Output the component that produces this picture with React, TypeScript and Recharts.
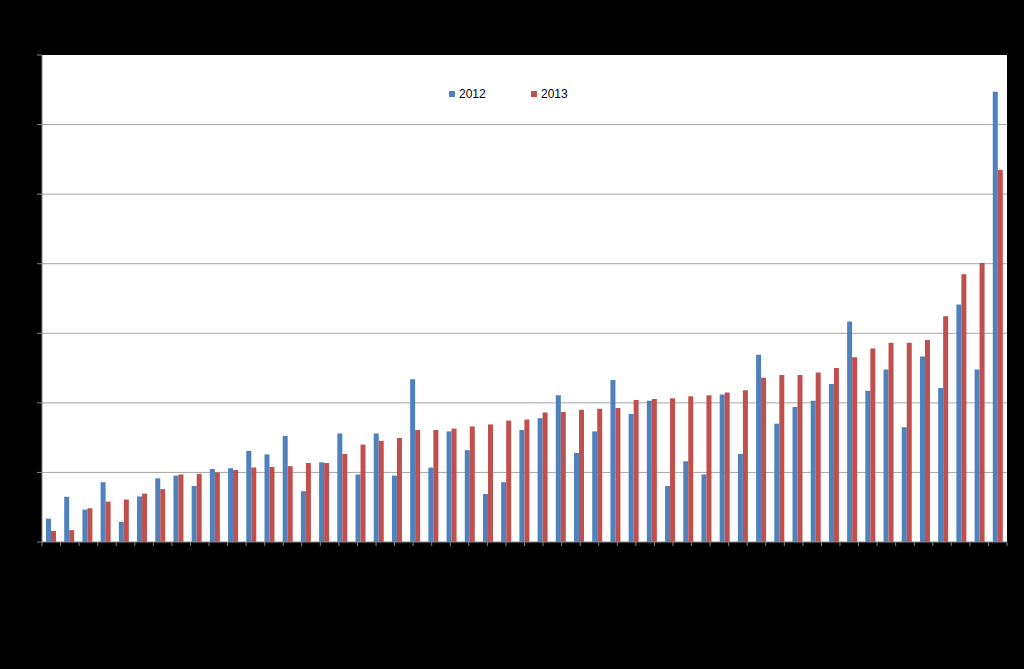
import React from 'react';
import { BarChart, Bar, XAxis, YAxis, CartesianGrid, Legend } from 'recharts';

const categories: string[] = Array.from({ length: 53 }, (_, i) => String(i + 1));

const values2012: number[] = [
  3.35, 6.5, 4.65, 8.6, 2.9, 6.55, 9.15, 9.55, 8.05, 10.5,
  10.6, 13.1, 12.6, 15.25, 7.3, 11.45, 15.6, 9.7, 15.6, 9.55,
  23.4, 10.7, 15.9, 13.2, 6.9, 8.6, 16.1, 17.8, 21.1, 12.8,
  15.9, 23.3, 18.4, 20.3, 8.05, 11.6, 9.7, 21.2, 12.65, 26.9,
  17.0, 19.4, 20.3, 22.7, 31.7, 21.75, 24.8, 16.5, 26.65, 22.15,
  34.15, 24.8, 64.7,
];

const values2013: number[] = [
  1.6, 1.7, 4.85, 5.8, 6.1, 6.95, 7.6, 9.7, 9.8, 10.0,
  10.35, 10.7, 10.8, 10.9, 11.35, 11.35, 12.65, 14.0, 14.55, 14.95,
  16.1, 16.1, 16.3, 16.6, 16.9, 17.45, 17.6, 18.6, 18.7, 19.0,
  19.15, 19.25, 20.4, 20.55, 20.65, 20.95, 21.1, 21.5, 21.8, 23.6,
  24.0, 24.0, 24.35, 25.0, 26.55, 27.8, 28.65, 28.65, 29.05, 32.45,
  38.5, 40.1, 53.5,
];

const seriesNames: string[] = ['2012', '2013'];
const Y_MAX = 70;
const yTicks: number[] = [0, 10, 20, 30, 40, 50, 60, 70];
const gridValues: number[] = [10, 20, 30, 40, 50, 60];
const boundaryTicks: number[] = Array.from({ length: categories.length + 1 }, (_, i) => i);

const data = categories.map((name, i) => ({
  name,
  v2012: values2012[i],
  v2013: values2013[i],
}));

const BLUE = '#4f81bd';
const RED = '#c0504d';

const EmptyTick = () => <g />;

const gridGenerator = (props: any) => {
  const off = props.offset || {};
  const top = off.top ?? 55;
  const h = off.height ?? 487;
  return gridValues.map((v) => top + h * (1 - v / Y_MAX));
};

const LegendContent = (props: any) => {
  const payload = props.payload || [];
  return (
    <div style={{ display: 'flex', fontFamily: '"Liberation Sans", Arial, sans-serif', fontSize: 12, color: '#000' }}>
      {payload.map((p: any, i: number) => (
        <div key={i} style={{ display: 'flex', alignItems: 'center', width: 82 }}>
          <span style={{ display: 'inline-block', width: 6, height: 6, background: p.color, marginRight: 4 }} />
          <span>{p.value}</span>
        </div>
      ))}
    </div>
  );
};

export default function App() {
  return (
    <div style={{ position: 'absolute', left: 0, top: 0, width: 1024, height: 669, background: '#000' }}>
      <BarChart
        width={1024}
        height={669}
        data={data}
        margin={{ top: 55, right: 17, bottom: 97, left: 0 }}
        barCategoryGap={4}
        barGap={0}
      >
        <CartesianGrid
          vertical={false}
          horizontalCoordinatesGenerator={gridGenerator}
          stroke="#a6a6a6"
          fill="#ffffff"
          fillOpacity={1}
        />
        <XAxis dataKey="name" hide height={0} />
        <XAxis
          xAxisId="b"
          type="number"
          domain={[0, categories.length]}
          ticks={boundaryTicks}
          interval={0}
          tick={EmptyTick}
          tickSize={4}
          stroke="#868686"
          height={30}
          allowDataOverflow
        />
        <YAxis
          domain={[0, Y_MAX]}
          ticks={yTicks}
          interval={0}
          tick={EmptyTick}
          tickSize={5}
          width={42}
          stroke="#868686"
          allowDataOverflow
        />
        <Legend
          verticalAlign="middle"
          align="center"
          layout="horizontal"
          content={LegendContent}
          wrapperStyle={{ top: 87, left: 449, width: 170 }}
        />
        <Bar dataKey="v2012" name={seriesNames[0]} fill={BLUE} isAnimationActive={false} />
        <Bar dataKey="v2013" name={seriesNames[1]} fill={RED} isAnimationActive={false} />
      </BarChart>
    </div>
  );
}
